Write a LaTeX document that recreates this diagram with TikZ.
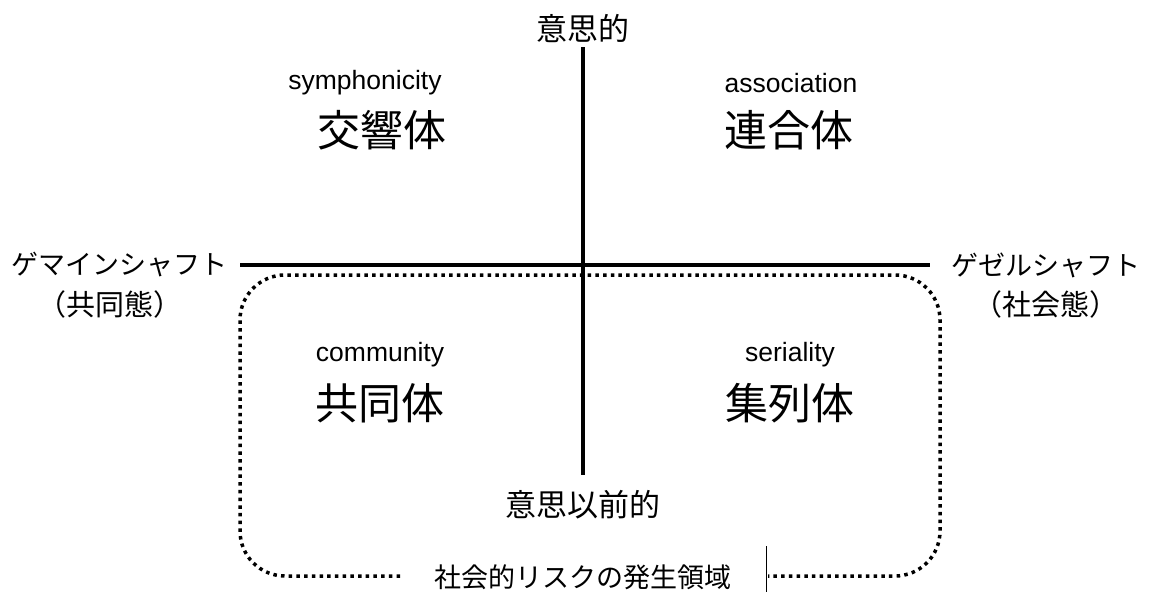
\documentclass[tikz,border=0pt]{standalone}
\usepackage{fontspec}
\setmainfont{Liberation Sans}
\newfontfamily\jp{Noto Sans CJK JP}
\begin{document}
\begin{tikzpicture}[x=1pt,y=-1pt,
  axis/.style={line width=3.5pt},
  dotline/.style={line width=3.5pt,dash pattern=on 3.5pt off 4.2pt},
  big/.style={font=\jp\fontsize{43}{46}\selectfont,inner sep=0pt},
  en/.style={font=\fontsize{26.5}{28}\selectfont,inner sep=0pt},
  lab/.style={font=\jp\fontsize{31}{34}\selectfont,inner sep=0pt},
  side/.style={font=\jp\fontsize{27}{30}\selectfont,inner sep=0pt},
  sub/.style={font=\jp\fontsize{29}{32}\selectfont,inner sep=0pt}]
\useasboundingbox (0,0) rectangle (1149,592);
% axes
\coordinate (vt) at (583,47);
\coordinate (vb) at (583,475);
\coordinate (hl) at (240,265);
\coordinate (hr) at (930,265);
\draw[axis] (vt) -- (vb);
\draw[axis] (hl) -- (hr);
% axis labels
\node[lab] (top) at (583,29) {意思的};
\node[lab] (bot) at (583,505) {意思以前的};
\node[side] (gem) at (120,265) {ゲマインシャフト};
\node[sub] (gemj) at (110,304) {（共同態）};
\node[side] (ges) at (1046,265) {ゲゼルシャフト};
\node[sub] (gesj) at (1046,304) {（社会態）};
% quadrants
\node[en] (e1) at (365,83) {symphonicity};
\node[big] (j1) at (382,130) {交響体};
\node[en] (e2) at (791,83) {association};
\node[big] (j2) at (789,130) {連合体};
\node[en] (e3) at (380,355) {community};
\node[big] (j3) at (380,403) {共同体};
\node[en] (e4) at (790,355) {seriality};
\node[big] (j4) at (790,403) {集列体};
% dotted region
\coordinate (a) at (400,576);
\coordinate (b) at (768,576);
\draw[dotline,rounded corners=45pt] (a) -- (240,576) -- (240,275) -- (940,275) -- (940,576) -- (b);
\node[side] (risk) at (583,577) {社会的リスクの発生領域};
\coordinate (t1) at (766,546);
\coordinate (t2) at (766,592);
\draw[line width=0.8pt] (t1) -- (t2);
\end{tikzpicture}
\end{document}
